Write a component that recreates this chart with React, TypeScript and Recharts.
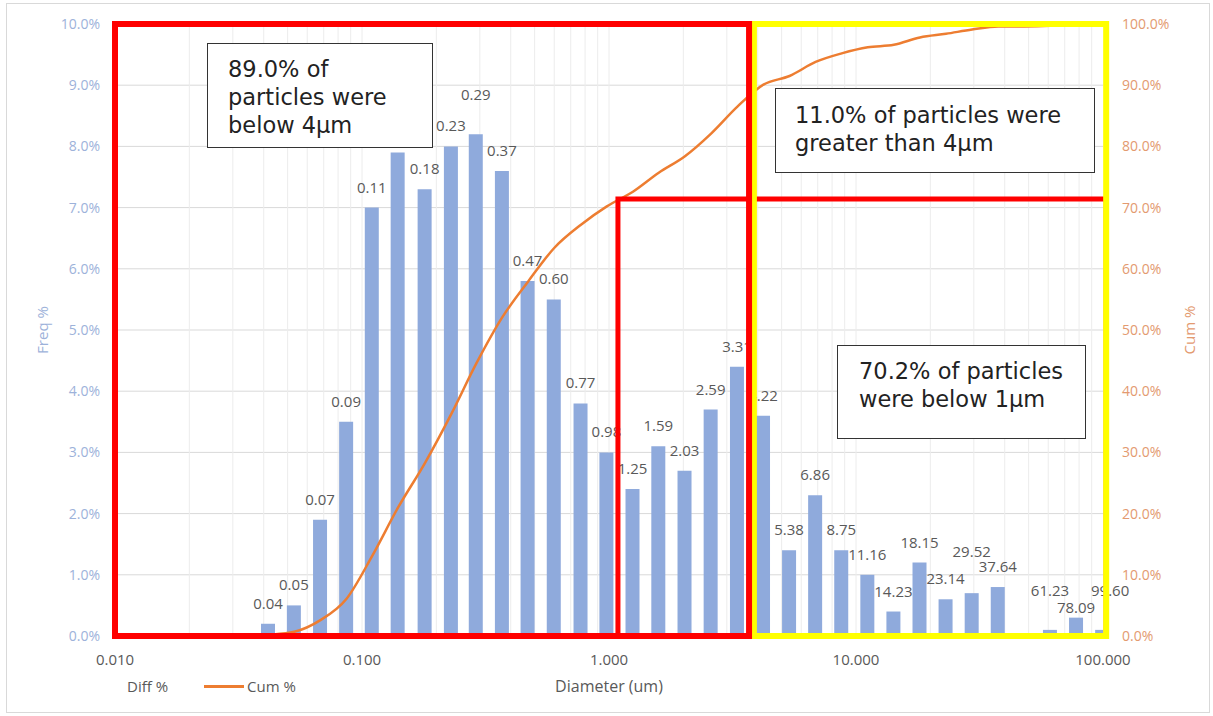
import React from 'react';
import {
  ComposedChart,
  Bar,
  Line,
  XAxis,
  YAxis,
  CartesianGrid,
  ReferenceArea,
  ReferenceLine,
  Legend,
  LabelList,
} from 'recharts';

// bin diameters (um), log spaced
const diameters = [
  0.0124, 0.0158, 0.0201, 0.0257, 0.0327, 0.0418, 0.0532, 0.0679, 0.0866,
  0.11, 0.14, 0.18, 0.23, 0.29, 0.37, 0.47, 0.6, 0.77, 0.98,
  1.25, 1.59, 2.03, 2.59, 3.31, 4.22, 5.38, 6.86, 8.75,
  11.16, 14.23, 18.15, 23.14, 29.52, 37.64, 48.0, 61.23, 78.09, 99.6,
];

// Diff % (left axis)
const diffPct = [
  0, 0, 0, 0, 0, 0.2, 0.5, 1.9, 3.5,
  7.0, 7.9, 7.3, 8.0, 8.2, 7.6, 5.8, 5.5, 3.8, 3.0,
  2.4, 3.1, 2.7, 3.7, 4.4, 3.6, 1.4, 2.3, 1.4,
  1.0, 0.4, 1.2, 0.6, 0.7, 0.8, 0, 0.1, 0.3, 0.1,
];

// Cum % (right axis)
const cumPct = [
  0, 0, 0, 0, 0, 0.2, 0.7, 2.6, 6.1,
  13.1, 21.0, 28.3, 36.3, 44.5, 52.1, 57.9, 63.4, 67.2, 70.2,
  72.6, 75.7, 78.4, 82.1, 86.5, 90.1, 91.5, 93.8, 95.2,
  96.2, 96.6, 97.8, 98.4, 99.1, 99.6, 99.6, 99.7, 100.0, 100.0,
];

const majorTicks = [0.01, 0.1, 1, 10, 100];
const minorTicks = [
  0.02, 0.03, 0.04, 0.05, 0.06, 0.07, 0.08, 0.09, 0.1,
  0.2, 0.3, 0.4, 0.5, 0.6, 0.7, 0.8, 0.9, 1,
  2, 3, 4, 5, 6, 7, 8, 9, 10,
  20, 30, 40, 50, 60, 70, 80, 90,
];
const freqTicks = [0, 1, 2, 3, 4, 5, 6, 7, 8, 9, 10];
const cumTicks = [0, 10, 20, 30, 40, 50, 60, 70, 80, 90, 100];

const FONT = '"Open Sans", "Liberation Sans", sans-serif';
const BOX_FONT = '"DejaVu Sans", sans-serif';
const BAR_COLOR = '#8FAADC';
const LINE_COLOR = '#ED7D31';

// the 0.14 label sits behind the first text box in the original
const hiddenTags = ['0.14'];

const data = diameters.map((d, i) => {
  const tag = diffPct[i] > 0 ? d.toFixed(2) : '';
  return {
    d,
    diff: diffPct[i],
    cum: cumPct[i],
    tag: hiddenTags.includes(tag) ? '' : tag,
  };
});

// a few labels sit higher / lower than the rest
const labelNudge: Record<string, [number, number]> = {
  '0.29': [0, 40],
  '29.52': [0, 42],
  '61.23': [0, 40],
  '99.60': [8, 40],
  '78.09': [0, 11],
};

const renderBinLabel = (props: any) => {
  const { x, y, width, value } = props;
  if (!value) return null;
  const [dx, lift] = labelNudge[value] || [0, 21];
  return (
    <text
      x={Number(x) + Number(width) / 2 + dx}
      y={Number(y) - lift}
      textAnchor="middle"
      dominantBaseline="central"
      fill="#595959"
      fontSize={15}
      fontFamily={FONT}
    >
      {value}
    </text>
  );
};

const renderLegend = (props: any) => {
  const items = [...(props.payload || [])].sort(
    (a: any, b: any) => (a.type === 'line' ? 1 : 0) - (b.type === 'line' ? 1 : 0)
  );
  return (
    <div
      style={{
        display: 'flex',
        alignItems: 'center',
        height: 20,
        fontFamily: FONT,
        fontSize: 15,
        color: '#595959',
      }}
    >
      {items.map((item: any) => (
        <div key={item.value} style={{ display: 'flex', alignItems: 'center', marginRight: 36 }}>
          {item.type === 'line' && (
            <span
              style={{
                display: 'inline-block',
                width: 40,
                height: 3,
                background: item.color,
                marginRight: 3,
              }}
            />
          )}
          <span>{item.value}</span>
        </div>
      ))}
    </div>
  );
};

const boxStyle: React.CSSProperties = {
  position: 'absolute',
  background: 'white',
  border: '1px solid #333',
  fontFamily: BOX_FONT,
  fontSize: 22.5,
  lineHeight: '28px',
  color: '#222',
  boxSizing: 'border-box',
  whiteSpace: 'pre',
};

export default function App() {
  return (
    <div style={{ position: 'absolute', left: 0, top: 0, width: 1213, height: 716, background: 'white' }}>
      <div
        style={{
          position: 'absolute',
          left: 6,
          top: 3,
          width: 1204,
          height: 710,
          border: '1px solid #D9D9D9',
          boxSizing: 'border-box',
        }}
      />
      <ComposedChart
        width={1213}
        height={716}
        data={data}
        margin={{ top: 24, right: 0, bottom: 20, left: 0 }}
      >
        <CartesianGrid vertical={false} yAxisId="left" stroke="#D9D9D9" />
        {minorTicks.map((v) => (
          <ReferenceLine key={v} x={v} yAxisId="left" stroke="#ECECEC" zIndex={-90} />
        ))}
        <XAxis
          dataKey="d"
          type="number"
          scale="log"
          domain={[0.01, 100]}
          allowDataOverflow
          ticks={majorTicks}
          interval={0}
          tickFormatter={(v: number) => v.toFixed(3)}
          axisLine={false}
          tickLine={false}
          tickMargin={12}
          height={40}
          tick={{ fill: '#595959', fontSize: 15, fontFamily: FONT }}
          label={{
            value: 'Diameter (um)',
            position: 'bottom',
            offset: 5,
            fill: '#595959',
            fontSize: 16,
            fontFamily: FONT,
          }}
        />
        <YAxis
          yAxisId="left"
          domain={[0, 10]}
          ticks={freqTicks}
          interval={0}
          tickFormatter={(v: number) => `${v.toFixed(1)}%`}
          axisLine={false}
          tickLine={false}
          tickMargin={9}
          width={115}
          tick={{ fill: '#9DB2DA', fontSize: 14, fontFamily: FONT }}
          label={{
            value: 'Freq %',
            angle: -90,
            position: 'insideLeft',
            offset: 43,
            fill: '#9DB2DA',
            fontSize: 15,
            fontFamily: FONT,
            style: { textAnchor: 'middle' },
          }}
        />
        <YAxis
          yAxisId="right"
          orientation="right"
          domain={[0, 100]}
          ticks={cumTicks}
          interval={0}
          tickFormatter={(v: number) => `${v.toFixed(1)}%`}
          axisLine={false}
          tickLine={false}
          tickMargin={13}
          width={110}
          tick={{ fill: '#E39A70', fontSize: 14, fontFamily: FONT }}
          label={{
            value: 'Cum %',
            angle: -90,
            position: 'insideRight',
            offset: 23,
            fill: '#E39A70',
            fontSize: 15,
            fontFamily: FONT,
            style: { textAnchor: 'middle' },
          }}
        />
        <Legend
          content={renderLegend}
          wrapperStyle={{ left: 127, top: 676, width: 'auto' }}
        />
        <Bar
          yAxisId="left"
          dataKey="diff"
          name="Diff %"
          fill={BAR_COLOR}
          barSize={14}
          isAnimationActive={false}
        >
          <LabelList dataKey="tag" content={renderBinLabel} />
        </Bar>
        <Line
          yAxisId="right"
          dataKey="cum"
          name="Cum %"
          type="monotone"
          stroke={LINE_COLOR}
          strokeWidth={2.5}
          dot={false}
          isAnimationActive={false}
        />
        <ReferenceArea
          yAxisId="left"
          x1={1.087}
          x2={103}
          y1={0}
          y2={7.14}
          fill="none"
          fillOpacity={0}
          stroke="#FF0000"
          strokeWidth={5}
          ifOverflow="visible"
          zIndex={2500}
        />
        <ReferenceArea
          yAxisId="left"
          x1={3.86}
          x2={103}
          y1={0}
          y2={10}
          fill="none"
          fillOpacity={0}
          stroke="#FFFF00"
          strokeWidth={6}
          ifOverflow="visible"
          zIndex={2600}
        />
        <ReferenceArea
          yAxisId="left"
          x1={0.01}
          x2={3.69}
          y1={0}
          y2={10}
          fill="none"
          fillOpacity={0}
          stroke="#FF0000"
          strokeWidth={6}
          ifOverflow="visible"
          zIndex={2700}
        />
      </ComposedChart>
      <div style={{ ...boxStyle, left: 207, top: 43, width: 226, height: 105, padding: '11px 0 0 20px' }}>
        {'89.0% of\nparticles were\nbelow 4µm'}
      </div>
      <div style={{ ...boxStyle, left: 775, top: 88, width: 320, height: 85, padding: '12px 0 0 19px' }}>
        {'11.0% of particles were\ngreater than 4µm'}
      </div>
      <div style={{ ...boxStyle, left: 837, top: 345, width: 249, height: 94, padding: '11px 0 0 21px' }}>
        {'70.2% of particles\nwere below 1µm'}
      </div>
    </div>
  );
}
